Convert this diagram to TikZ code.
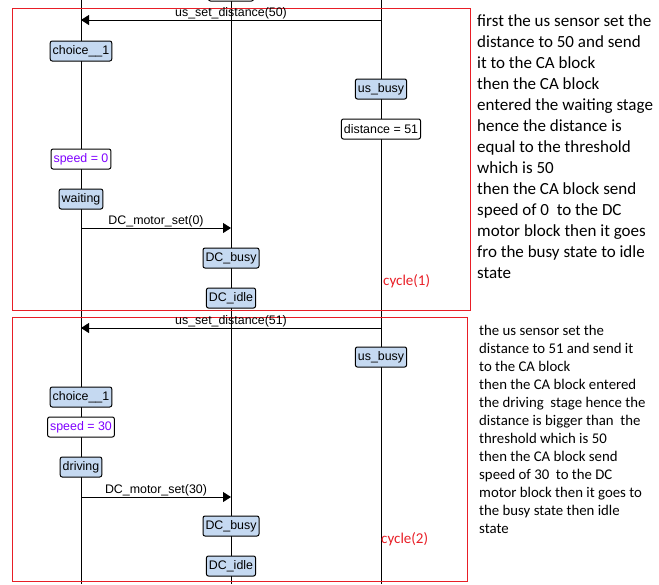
\documentclass[tikz,border=0pt]{standalone}
\usepackage{fontspec}
\setmainfont{Carlito}
\newfontfamily\diafont{Liberation Sans}
\usetikzlibrary{arrows.meta}
\definecolor{stfill}{RGB}{197,217,241}
\definecolor{frame}{RGB}{232,30,38}
\definecolor{varpurple}{RGB}{127,0,255}

\begin{document}
\begin{tikzpicture}[x=1pt,y=-1pt,
  state/.style = {rectangle,draw,line width=1pt,rounded corners=2pt,fill=stfill,minimum height=20pt,
                  inner xsep=2.5pt,inner ysep=0pt,font=\diafont\fontsize{12.4}{14}\selectfont},
  value/.style = {state,fill=white,text=varpurple},
  msg/.style   = {-{Triangle[length=8pt,width=10pt]},line width=1pt},
  msglabel/.style = {midway,above,inner sep=0.5pt,font=\diafont\fontsize{12.4}{14}\selectfont},
  cycletext/.style = {anchor=west,inner sep=0pt,text=frame,font=\fontsize{15}{18}\selectfont},
  frame/.style = {draw=frame,line width=1pt}]
\useasboundingbox (0,0) rectangle (659,584);
\clip (0,0) rectangle (659,584);
% lifelines
\foreach \x/\n in {81/ca, 231/dc, 381/us}
    \draw[line width=1pt] (\x,0) coordinate (\n top) -- (\x,584) coordinate (\n bot);
\node[state,fill=white,minimum width=45pt] (prev) at (231,-9) {};
% cycle frames
\draw[frame] (12,8) rectangle (470,310);
\draw[frame] (12,317) rectangle (467,581);
\node[cycletext] (cyc1) at (383,281) {cycle(1)};
\node[cycletext] (cyc2) at (381,539) {cycle(2)};

% cycle 1
\coordinate (us1) at (381,20);
\coordinate (ca1) at (81,20);
\draw[msg] (us1) -- (ca1) node[msglabel] {us\_set\_distance(50)};
\node[state] (choice1) at (81,51) {choice\_\_1};
\node[state] (usbusy1) at (381,89) {us\_busy};
\node[value,text=black] (dist1) at (381,129) {distance = 51};
\node[value] (speed1) at (81,159) {speed = 0};
\node[state] (wait1) at (81,199) {waiting};
\coordinate (ca2) at (81,228);
\coordinate (dc2) at (231,228);
\draw[msg] (ca2) -- (dc2) node[msglabel] {DC\_motor\_set(0)};
\node[state] (dcbusy1) at (231,258) {DC\_busy};
\node[state] (dcidle1) at (231,298) {DC\_idle};

% cycle 2
\coordinate (us3) at (381,328);
\coordinate (ca3) at (81,328);
\draw[msg] (us3) -- (ca3) node[msglabel] {us\_set\_distance(51)};
\node[state] (usbusy2) at (381,357) {us\_busy};
\node[state] (choice2) at (81,397) {choice\_\_1};
\node[value] (speed2) at (81,427) {speed = 30};
\node[state] (drive2) at (81,467) {driving};
\coordinate (ca4) at (81,497);
\coordinate (dc4) at (231,497);
\draw[msg] (ca4) -- (dc4) node[msglabel] {DC\_motor\_set(30)};
\node[state] (dcbusy2) at (231,526) {DC\_busy};
\node[state] (dcidle2) at (231,566) {DC\_idle};

% notes
\foreach \l [count=\i from 0] in {first the us sensor set the, distance to 50 and send,
    it to the CA block, then the CA block, entered the waiting stage,
    hence the distance is, equal to the threshold, which is 50,
    then the CA block send, speed of 0\ \ to the DC, motor block then it goes,
    fro the busy state to idle, state}
    \node[anchor=base west,inner sep=0pt,font=\fontsize{17}{21}\selectfont] (noteA\i) at (477,{26+21*\i}) {\l};
\foreach \l [count=\i from 0] in {the us sensor set the, distance to 51 and send it,
    to the CA block, then the CA block entered, the driving\ \ stage hence the,
    distance is bigger than\ \ the, threshold which is 50, then the CA block send,
    speed of 30\ \ to the DC, motor block then it goes to, the busy state then idle, state}
    \node[anchor=base west,inner sep=0pt,font=\fontsize{14.8}{18}\selectfont] (noteB\i) at (479,{335+18*\i}) {\l};
\end{tikzpicture}
\end{document}
